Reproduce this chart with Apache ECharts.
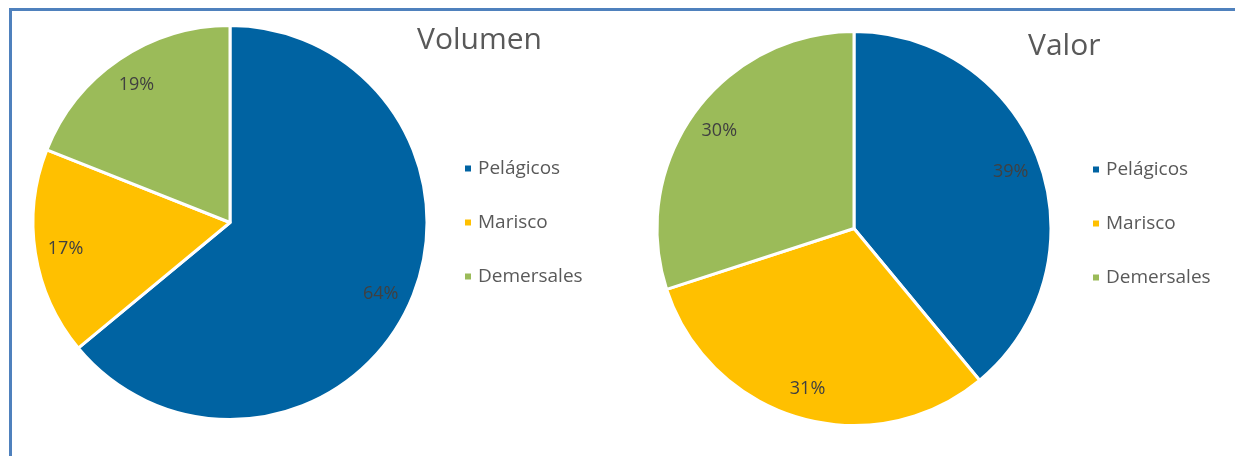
<!DOCTYPE html>
<html>
<head>
<meta charset="utf-8">
<script src="https://cdn.jsdelivr.net/npm/echarts@6/dist/echarts.min.js"></script>
<style>
  html, body { margin: 0; padding: 0; background: #fff; }
  #chart { width: 1235px; height: 456px; }
</style>
</head>
<body>
<div id="chart"></div>
<script>
// Fish landings by group: share of volume and of value
const categories = ['Pelágicos', 'Marisco', 'Demersales'];
const volumenValues = [64, 17, 19];
const valorValues = [39, 31, 30];
const titles = ['Volumen', 'Valor'];
const colors = ['#0063a2', '#ffc000', '#9bbb59'];

const FONT = '"Open Sans", "DejaVu Sans", sans-serif';
const R = 197;

function toData(values) {
  return categories.map((name, i) => ({ name, value: values[i] }));
}

// Full pie (no labels) plus a transparent ring on top that carries the labels
function pieSeries(values, center) {
  return [
    {
      type: 'pie',
      center: center,
      radius: [0, R],
      startAngle: 90,
      clockwise: true,
      data: toData(values),
      label: { show: false },
      labelLine: { show: false },
      itemStyle: { borderColor: '#fff', borderWidth: 3 },
      emphasis: { disabled: true },
      silent: true
    },
    {
      type: 'pie',
      center: center,
      radius: [R * 0.66, R],
      startAngle: 90,
      clockwise: true,
      data: toData(values),
      legendHoverLink: false,
      itemStyle: { color: 'rgba(0,0,0,0)' },
      label: {
        show: true,
        position: 'inside',
        formatter: p => p.value + '%',
        color: '#404040',
        fontSize: 18,
        fontFamily: FONT
      },
      labelLine: { show: false },
      emphasis: { disabled: true },
      silent: true
    }
  ];
}

const legendBase = {
  orient: 'vertical',
  data: categories,
  icon: 'rect',
  itemWidth: 8,
  itemHeight: 8,
  itemGap: 35,
  selectedMode: false,
  textStyle: { color: '#595959', fontSize: 19, fontFamily: FONT, padding: [0, 0, 0, 1] }
};

const chart = echarts.init(document.getElementById('chart'), null, { renderer: 'canvas' });
chart.setOption({
  color: colors,
  animation: false,
  title: [
    { text: titles[0], left: 412, top: 20, textStyle: { color: '#595959', fontSize: 30, fontWeight: 'normal', fontFamily: FONT } },
    { text: titles[1], left: 1023, top: 26, textStyle: { color: '#595959', fontSize: 30, fontWeight: 'normal', fontFamily: FONT } }
  ],
  legend: [
    Object.assign({}, legendBase, { left: 458, top: 154 }),
    Object.assign({}, legendBase, { left: 1086, top: 155 })
  ],
  graphic: [
    {
      type: 'polyline',
      shape: { points: [[10.5, 456], [10.5, 9.5], [1235, 9.5]] },
      style: { stroke: '#4f81bd', lineWidth: 3, fill: null, lineJoin: 'miter' },
      silent: true
    }
  ],
  series: [
    ...pieSeries(volumenValues, [230, 222.5]),
    ...pieSeries(valorValues, [854, 228.5])
  ]
});
</script>
</body>
</html>
